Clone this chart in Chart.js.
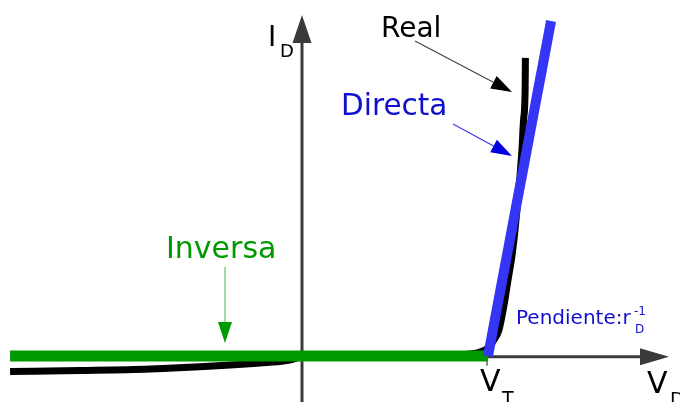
<!DOCTYPE html>
<html>
<head>
<meta charset="utf-8">
<script src="https://cdn.jsdelivr.net/npm/chart.js@4"></script>
<style>
  html, body { margin: 0; padding: 0; background: #ffffff; }
  #wrap { width: 680px; height: 402px; }
</style>
</head>
<body>
<div id="wrap"><canvas id="c" width="680" height="402"></canvas></div>
<script>
// Diode I-V characteristic: real curve, ideal forward model and reverse model.
// Voltages in volts, currents in mA.
const VT = 0.7;

// Real diode curve
const realV = [-1.089, -0.827, -0.565, -0.329, -0.153, -0.060, -0.020, 0.0, 0.371, 0.558, 0.633, 0.670, 0.700, 0.722, 0.741, 0.760, 0.775, 0.790, 0.801, 0.812, 0.820, 0.827, 0.833, 0.839, 0.840];
const realI = [-4.63, -4.33, -3.88, -2.99, -2.09, -1.45, -0.7, 0.0, 0.0, 0.15, 0.6, 1.19, 2.39, 4.78, 7.76, 15.2, 22.7, 30.1, 37.6, 46.6, 54.0, 61.5, 70.4, 79.4, 89.0];

// Piecewise-linear model: forward branch (slope 1/rD) and reverse branch
const directaV = [VT, 0.936];
const directaI = [0, 100];
const inversaV = [-1.089, VT];
const inversaI = [0, 0];

const toPts = (xs, ys) => xs.map((x, i) => ({ x: x, y: ys[i] }));

const FONT = '"DejaVu Sans", Verdana, sans-serif';
const BLUE_TXT = '#1010d0';
const GREEN = '#009a00';

function arrow(ctx, x1, y1, x2, y2, lineColor, headColor, len, half) {
  const a = Math.atan2(y2 - y1, x2 - x1);
  const bx = x2 - len * Math.cos(a), by = y2 - len * Math.sin(a);
  ctx.save();
  ctx.strokeStyle = lineColor;
  ctx.lineWidth = 1.2;
  ctx.beginPath();
  ctx.moveTo(x1, y1);
  ctx.lineTo(bx, by);
  ctx.stroke();
  ctx.fillStyle = headColor;
  ctx.beginPath();
  ctx.moveTo(x2, y2);
  ctx.lineTo(bx + half * Math.sin(a), by - half * Math.cos(a));
  ctx.lineTo(bx - half * Math.sin(a), by + half * Math.cos(a));
  ctx.closePath();
  ctx.fill();
  ctx.restore();
}

function text(ctx, str, x, y, size, color) {
  ctx.font = size + 'px ' + FONT;
  ctx.fillStyle = color;
  ctx.textAlign = 'left';
  ctx.textBaseline = 'alphabetic';
  ctx.fillText(str, x, y);
}

// Axes with arrowheads, drawn under the curves
const axesPlugin = {
  id: 'axesArrows',
  beforeDatasetsDraw(chart) {
    const ctx = chart.ctx;
    const xs = chart.scales.x, ys = chart.scales.y;
    const ox = xs.getPixelForValue(0) + 1;
    const oy = ys.getPixelForValue(0) + 0.7;
    const top = chart.chartArea.top;
    ctx.save();
    ctx.strokeStyle = '#3a3a3a';
    ctx.fillStyle = '#3a3a3a';
    ctx.lineWidth = 3;
    // vertical axis
    ctx.beginPath();
    ctx.moveTo(ox, chart.chartArea.bottom);
    ctx.lineTo(ox, top + 42);
    ctx.stroke();
    ctx.beginPath();
    ctx.moveTo(ox, top + 15);
    ctx.lineTo(ox - 9.5, top + 43);
    ctx.lineTo(ox + 9.5, top + 43);
    ctx.closePath();
    ctx.fill();
    // horizontal axis
    const xEnd = chart.chartArea.right - 11;
    ctx.beginPath();
    ctx.moveTo(chart.chartArea.left + 10, oy);
    ctx.lineTo(xEnd - 28, oy);
    ctx.stroke();
    ctx.beginPath();
    ctx.moveTo(xEnd, oy);
    ctx.lineTo(xEnd - 29, oy - 8.5);
    ctx.lineTo(xEnd - 29, oy + 8.5);
    ctx.closePath();
    ctx.fill();
    // threshold tick
    const vx = xs.getPixelForValue(VT);
    ctx.strokeStyle = '#8a8a8a';
    ctx.lineWidth = 2;
    ctx.beginPath();
    ctx.moveTo(vx - 1, oy);
    ctx.lineTo(vx - 1, oy + 9);
    ctx.stroke();
    ctx.restore();
  }
};

// Labels and pointer arrows
const labelsPlugin = {
  id: 'labels',
  afterDatasetsDraw(chart) {
    const ctx = chart.ctx;
    ctx.save();
    // axis names
    text(ctx, 'I', 268, 46, 28, '#000000');
    text(ctx, 'D', 280, 57, 18, '#000000');
    text(ctx, 'V', 480, 391, 30, '#000000');
    text(ctx, 'T', 502, 405, 19, '#000000');
    text(ctx, 'V', 647, 393, 30, '#000000');
    text(ctx, 'D', 670, 406, 19, '#000000');
    // curve names
    text(ctx, 'Real', 381, 37, 28, '#000000');
    text(ctx, 'Directa', 341, 115, 29.5, BLUE_TXT);
    text(ctx, 'Inversa', 166, 258, 30, GREEN);
    // slope note
    text(ctx, 'Pendiente:r', 516, 324, 20, BLUE_TXT);
    text(ctx, '-1', 634, 315, 12, BLUE_TXT);
    text(ctx, 'D', 635, 333, 12, BLUE_TXT);
    // pointers
    arrow(ctx, 415, 41, 512, 92, '#444444', '#000000', 21, 7);
    arrow(ctx, 453, 124, 512, 156, '#3a3aee', '#0000e0', 21, 7);
    arrow(ctx, 225, 267, 225, 343, '#66c066', GREEN, 21, 7);
    ctx.restore();
  }
};

const PX_PER_V = 267.14, PX_PER_MA = 3.35;

new Chart(document.getElementById('c'), {
  type: 'scatter',
  data: {
    datasets: [
      {
        label: 'Directa',
        data: toPts(directaV, directaI),
        showLine: true,
        borderColor: '#3535f5',
        borderWidth: 10,
        borderCapStyle: 'butt',
        pointRadius: 0,
        order: 1
      },
      {
        label: 'Inversa',
        data: toPts(inversaV, inversaI),
        showLine: true,
        borderColor: GREEN,
        borderWidth: 11,
        borderCapStyle: 'butt',
        pointRadius: 0,
        order: 2
      },
      {
        label: 'Real',
        data: toPts(realV, realI),
        showLine: true,
        borderColor: '#000000',
        borderWidth: 7,
        borderCapStyle: 'butt',
        borderJoinStyle: 'round',
        cubicInterpolationMode: 'monotone',
        pointRadius: 0,
        order: 3
      }
    ]
  },
  options: {
    responsive: false,
    animation: false,
    layout: { padding: 0 },
    plugins: { legend: { display: false }, tooltip: { enabled: false } },
    scales: {
      x: { type: 'linear', display: false, min: -301 / PX_PER_V, max: 379 / PX_PER_V },
      y: { type: 'linear', display: false, min: -46 / PX_PER_MA, max: 356 / PX_PER_MA }
    }
  },
  plugins: [axesPlugin, labelsPlugin]
});
</script>
</body>
</html>
